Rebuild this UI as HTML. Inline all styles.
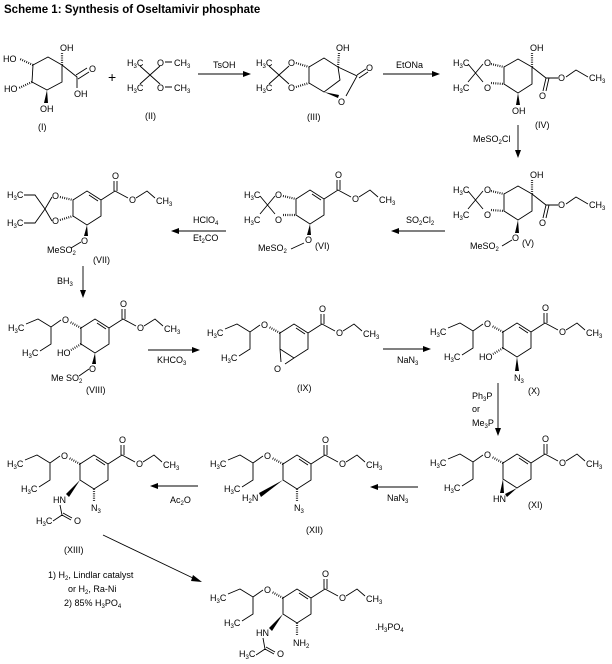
<!DOCTYPE html>
<html><head><meta charset="utf-8"><style>
html,body{margin:0;padding:0;background:#fff;}
svg{display:block;}
text{font-family:"Liberation Sans",Arial,sans-serif;font-size:9px;fill:#000;}
.s{font-size:6px;}
.t{font-size:11.5px;font-weight:bold;}
path,line{stroke:#000;stroke-width:0.9;fill:none;}
.h{stroke-width:2.2;stroke-dasharray:0.8 1.4;}
polygon{fill:#000;stroke:none;}
</style></head><body>
<svg width="612" height="664" viewBox="0 0 612 664" xmlns="http://www.w3.org/2000/svg">
<text class="t" x="4" y="13">Scheme 1: Synthesis of Oseltamivir phosphate</text>

<!-- (I) -->
<g>
<path d="M33,65L48,57L62,65L62,82L47,90L32,82Z M62,65L77,77L77,88 M76,75L87,68 M78,79L89,72"/>
<path class="h" d="M62,65L62,53 M33,65L20,59 M32,82L19,88"/>
<polygon points="47,90 44,103 48,103"/>
<text x="60" y="51">OH</text><text x="89" y="72">O</text><text x="74" y="97">OH</text>
<text x="3" y="62">HO</text><text x="4" y="92">HO</text><text x="40" y="112">OH</text>
<text x="38" y="130">(I)</text>
</g>
<text x="108" y="82" style="font-size:14px">+</text>
<!-- (II) -->
<path d="M140,66L160,84 M160,66L140,84 M165,62L172,62 M165,87L172,87"/>
<text x="127" y="66">H<tspan class="s" dy="2">3</tspan><tspan dy="-2">C</tspan></text>
<text x="157" y="66">O</text><text x="174" y="66">CH<tspan class="s" dy="2">3</tspan></text>
<text x="127" y="91">H<tspan class="s" dy="2">3</tspan><tspan dy="-2">C</tspan></text>
<text x="157" y="91">O</text><text x="174" y="91">CH<tspan class="s" dy="2">3</tspan></text>
<text x="145" y="119">(II)</text>
<!-- arrow TsOH -->
<path d="M198,74L245,74"/><polygon points="251,74 243,71 243,77"/>
<text x="213" y="68">TsOH</text>
<!-- (III) -->
<path d="M269,66L289,84 M289,66L269,84"/>
<text x="256" y="66">H<tspan class="s" dy="2">3</tspan><tspan dy="-2">C</tspan></text>
<text x="256" y="91">H<tspan class="s" dy="2">3</tspan><tspan dy="-2">C</tspan></text>
<text x="288" y="66">O</text><text x="288" y="91">O</text>
<path class="h" d="M296,63L309,67 M296,87L309,83"/>
<path d="M309,67L324,58L338,67L340,80L324,92L309,83Z M338,67L357,76L346,96 M357,75L366,69 M359,78L368,72"/>
<polygon points="324,92 338,98 339,95"/>
<path class="h" d="M338,67L339,53"/>
<text x="336" y="51">OH</text><text x="366" y="71">O</text><text x="338" y="105">O</text>
<text x="307" y="120">(III)</text>
<!-- arrow EtONa -->
<path d="M383,74L434,74"/><polygon points="440,74 432,71 432,77"/>
<text x="396" y="68">EtONa</text>

<!-- (IV) -->
<g transform="translate(518,76)">
<path d="M-14,-9L0,-17L14,-9L14,8L0,17L-14,8Z M-35,-12L-50,6 M-50,-12L-35,6 M14,-9L28,2L40,2 M28,2L25,15 M31,2L28,15 M48,1L58,-6L70,1"/>
<path class="h" d="M-27,-12L-14,-9 M-27,7L-14,8 M14,-9L14,-23"/>
<polygon points="0,17 -2,29 2,29"/>
<text x="-34" y="-10">O</text><text x="-34" y="15">O</text>
<text x="-65" y="-10">H<tspan class="s" dy="2">3</tspan><tspan dy="-2">C</tspan></text>
<text x="-65" y="15">H<tspan class="s" dy="2">3</tspan><tspan dy="-2">C</tspan></text>
<text x="12" y="-25">OH</text><text x="-6" y="38">OH</text>
<text x="40" y="5">O</text><text x="21" y="23">O</text>
<text x="71" y="5">CH<tspan class="s" dy="2">3</tspan></text>
<text x="17" y="52">(IV)</text>
</g>
<!-- arrow MeSO2Cl -->
<path d="M518,125L518,152"/><polygon points="518,158 515,150 521,150"/>
<text x="473" y="142">MeSO<tspan class="s" dy="2">2</tspan><tspan dy="-2">Cl</tspan></text>

<!-- (V) -->
<g transform="translate(518,203)">
<path d="M-14,-9L0,-17L14,-9L14,8L0,17L-14,8Z M-35,-12L-50,6 M-50,-12L-35,6 M14,-9L28,2L40,2 M28,2L25,15 M31,2L28,15 M48,1L58,-6L70,1 M-6,37L-16,43"/>
<path class="h" d="M-27,-12L-14,-9 M-27,7L-14,8 M14,-9L14,-23"/>
<polygon points="0,17 -3,30 1,30"/>
<text x="-34" y="-10">O</text><text x="-34" y="15">O</text>
<text x="-65" y="-10">H<tspan class="s" dy="2">3</tspan><tspan dy="-2">C</tspan></text>
<text x="-65" y="15">H<tspan class="s" dy="2">3</tspan><tspan dy="-2">C</tspan></text>
<text x="12" y="-25">OH</text>
<text x="40" y="5">O</text><text x="21" y="23">O</text>
<text x="71" y="5">CH<tspan class="s" dy="2">3</tspan></text>
<text x="-6" y="38">O</text>
<text x="-48" y="46">MeSO<tspan class="s" dy="2">2</tspan></text>
<text x="4" y="43">(V)</text>
</g>
<!-- arrow SO2Cl2 -->
<path d="M445,231L398,231"/><polygon points="391,231 399,228 399,234"/>
<text x="406" y="223">SO<tspan class="s" dy="2">2</tspan><tspan dy="-2">Cl</tspan><tspan class="s" dy="2">2</tspan></text>

<!-- (VI) -->
<g transform="translate(310,207)">
<path d="M-14,-8L0,-17L14,-8L14,8L0,17L-14,8Z M2,-13L11,-7 M14,-8L28,-17L41,-10 M49,-10L60,-17L68,-10 M27,-17V-27 M30,-17V-27 M-35,-11L-50,7 M-50,-11L-35,7 M-6,36L-19,42"/>
<path class="h" d="M-27,-11L-14,-8 M-27,8L-14,8"/>
<polygon points="0,17 -3,28 1,28"/>
<text x="25" y="-29">O</text><text x="42" y="-5">O</text><text x="69" y="-4">CH<tspan class="s" dy="2">3</tspan></text>
<text x="-35" y="-9">O</text><text x="-35" y="16">O</text>
<text x="-66" y="-9">H<tspan class="s" dy="2">3</tspan><tspan dy="-2">C</tspan></text>
<text x="-66" y="16">H<tspan class="s" dy="2">3</tspan><tspan dy="-2">C</tspan></text>
<text x="-5" y="36">O</text>
<text x="-52" y="44">MeSO<tspan class="s" dy="2">2</tspan></text>
<text x="5" y="42">(VI)</text>
</g>
<!-- arrow HClO4 -->
<path d="M226,231L178,231"/><polygon points="171,231 179,228 179,234"/>
<text x="193" y="223">HClO<tspan class="s" dy="2">4</tspan></text>
<text x="193" y="241">Et<tspan class="s" dy="2">2</tspan><tspan dy="-2">CO</tspan></text>

<!-- (VII) -->
<g transform="translate(87,208)">
<path d="M-14,-8L0,-17L14,-8L14,8L0,17L-14,8Z M2,-13L11,-7 M14,-8L28,-17L41,-10 M49,-10L60,-17L68,-10 M27,-17V-27 M30,-17V-27 M-35,-11L-42,1 M-42,1L-35,13 M-63,-13L-52,-13L-42,1L-52,15L-63,15 M-6,34L-16,40"/>
<path class="h" d="M-27,-11L-14,-8 M-27,12L-14,8"/>
<polygon points="0,17 -3,28 1,28"/>
<text x="25" y="-29">O</text><text x="42" y="-5">O</text><text x="69" y="-4">CH<tspan class="s" dy="2">3</tspan></text>
<text x="-35" y="-9">O</text><text x="-35" y="16">O</text>
<text x="-80" y="-10">H<tspan class="s" dy="2">3</tspan><tspan dy="-2">C</tspan></text>
<text x="-80" y="18">H<tspan class="s" dy="2">3</tspan><tspan dy="-2">C</tspan></text>
<text x="-6" y="36">O</text>
<text x="-40" y="45">MeSO<tspan class="s" dy="2">2</tspan></text>
<text x="6" y="55">(VII)</text>
</g>
<!-- arrow BH3 -->
<path d="M83,266L83,292"/><polygon points="83,298 80,290 86,290"/>
<text x="57" y="284">BH<tspan class="s" dy="2">3</tspan></text>

<!-- (VIII) -->
<g transform="translate(95,336)">
<path d="M-14,-8L0,-17L14,-8L14,8L0,17L-14,8Z M2,-13L11,-7 M14,-8L28,-17L41,-10 M49,-10L60,-17L68,-10 M27,-17V-27 M30,-17V-27 M-34,-16L-44,-9L-57,-17L-69,-12 M-44,-9L-44,8L-55,15 M-6,33L-16,40"/>
<path class="h" d="M-14,-8L-25,-14 M-14,8L-24,14"/>
<polygon points="0,17 -3,28 1,28"/>
<text x="25" y="-29">O</text><text x="42" y="-5">O</text><text x="69" y="-4">CH<tspan class="s" dy="2">3</tspan></text>
<text x="-33" y="-13">O</text>
<text x="-87" y="-5">H<tspan class="s" dy="2">3</tspan><tspan dy="-2">C</tspan></text>
<text x="-73" y="20">H<tspan class="s" dy="2">3</tspan><tspan dy="-2">C</tspan></text>
<text x="-38" y="20">HO</text>
<text x="-6" y="36">O</text>
<text x="-44" y="45">Me SO<tspan class="s" dy="2">2</tspan></text>
<text x="-9" y="57">(VIII)</text>
</g>
<!-- arrow KHCO3 -->
<path d="M148,350L194,350"/><polygon points="200,350 192,347 192,353"/>
<text x="157" y="363">KHCO<tspan class="s" dy="2">3</tspan></text>

<!-- (IX) -->
<g transform="translate(294,341)">
<path d="M-14,-8L0,-17L14,-8L14,8L0,17L-14,8Z M2,-13L11,-7 M14,-8L28,-17L41,-10 M49,-10L60,-17L68,-10 M27,-17V-27 M30,-17V-27 M-34,-16L-44,-9L-57,-17L-69,-12 M-44,-9L-44,8L-55,15 M-14,8L-13,21 M0,17L-9,23"/>
<path class="h" d="M-14,-8L-25,-14"/>
<text x="25" y="-29">O</text><text x="42" y="-5">O</text><text x="69" y="-4">CH<tspan class="s" dy="2">3</tspan></text>
<text x="-33" y="-13">O</text>
<text x="-87" y="-5">H<tspan class="s" dy="2">3</tspan><tspan dy="-2">C</tspan></text>
<text x="-73" y="20">H<tspan class="s" dy="2">3</tspan><tspan dy="-2">C</tspan></text>
<text x="-20" y="31">O</text>
<text x="3" y="50">(IX)</text>
</g>
<!-- arrow NaN3 -->
<path d="M383,349L425,349"/><polygon points="431,349 423,346 423,352"/>
<text x="397" y="363">NaN<tspan class="s" dy="2">3</tspan></text>

<!-- (X) -->
<g transform="translate(517,340)">
<path d="M-14,-8L0,-17L14,-8L14,8L0,17L-14,8Z M2,-13L11,-7 M14,-8L28,-17L41,-10 M49,-10L60,-17L68,-10 M27,-17V-27 M30,-17V-27 M-34,-16L-44,-9L-57,-17L-69,-12 M-44,-9L-44,8L-55,15"/>
<path class="h" d="M-14,-8L-25,-14 M-14,8L-24,14"/>
<polygon points="0,17 -2,31 2,31"/>
<text x="25" y="-29">O</text><text x="42" y="-5">O</text><text x="69" y="-4">CH<tspan class="s" dy="2">3</tspan></text>
<text x="-33" y="-13">O</text>
<text x="-87" y="-5">H<tspan class="s" dy="2">3</tspan><tspan dy="-2">C</tspan></text>
<text x="-73" y="20">H<tspan class="s" dy="2">3</tspan><tspan dy="-2">C</tspan></text>
<text x="-38" y="20">HO</text>
<text x="-3" y="41">N<tspan class="s" dy="2">3</tspan></text>
<text x="11" y="54">(X)</text>
</g>
<!-- arrow Ph3P -->
<path d="M498,383L498,430"/><polygon points="498,436 495,428 501,428"/>
<text x="472" y="399">Ph<tspan class="s" dy="2">3</tspan><tspan dy="-2">P</tspan></text>
<text x="472" y="412">or</text>
<text x="472" y="426">Me<tspan class="s" dy="2">3</tspan><tspan dy="-2">P</tspan></text>

<!-- (XI) -->
<g transform="translate(517,471)">
<path d="M-14,-8L0,-17L14,-8L14,8L0,17L-14,8Z M2,-13L11,-7 M14,-8L28,-17L41,-10 M49,-10L60,-17L68,-10 M27,-17V-27 M30,-17V-27 M-34,-16L-44,-9L-57,-17L-69,-12 M-44,-9L-44,8L-55,15"/>
<path class="h" d="M-14,-8L-25,-14"/>
<polygon points="-14,8 -17,22 -13,22"/>
<polygon points="0,17 -12,23 -10,26"/>
<text x="25" y="-29">O</text><text x="42" y="-5">O</text><text x="69" y="-4">CH<tspan class="s" dy="2">3</tspan></text>
<text x="-33" y="-13">O</text>
<text x="-87" y="-5">H<tspan class="s" dy="2">3</tspan><tspan dy="-2">C</tspan></text>
<text x="-73" y="20">H<tspan class="s" dy="2">3</tspan><tspan dy="-2">C</tspan></text>
<text x="-24" y="31">HN</text>
<text x="11" y="37">(XI)</text>
</g>
<!-- arrow NaN3 left -->
<path d="M418,487L377,487"/><polygon points="370,487 378,484 378,490"/>
<text x="387" y="501">NaN<tspan class="s" dy="2">3</tspan></text>

<!-- (XII) -->
<g transform="translate(297,472)">
<path d="M-14,-8L0,-17L14,-8L14,8L0,17L-14,8Z M2,-13L11,-7 M14,-8L28,-17L41,-10 M49,-10L60,-17L68,-10 M27,-17V-27 M30,-17V-27 M-34,-16L-44,-9L-57,-17L-69,-12 M-44,-9L-44,8L-55,15"/>
<path class="h" d="M-14,-8L-25,-14 M0,17L0,29"/>
<polygon points="-14,8 -38,21 -36,25"/>
<text x="25" y="-29">O</text><text x="42" y="-5">O</text><text x="69" y="-4">CH<tspan class="s" dy="2">3</tspan></text>
<text x="-33" y="-13">O</text>
<text x="-87" y="-5">H<tspan class="s" dy="2">3</tspan><tspan dy="-2">C</tspan></text>
<text x="-73" y="20">H<tspan class="s" dy="2">3</tspan><tspan dy="-2">C</tspan></text>
<text x="-55" y="29">H<tspan class="s" dy="2">2</tspan><tspan dy="-2">N</tspan></text>
<text x="-3" y="39">N<tspan class="s" dy="2">3</tspan></text>
<text x="9" y="61">(XII)</text>
</g>
<!-- arrow Ac2O -->
<path d="M198,486L157,486"/><polygon points="150,486 158,483 158,489"/>
<text x="170" y="503">Ac<tspan class="s" dy="2">2</tspan><tspan dy="-2">O</tspan></text>

<!-- (XIII) -->
<g transform="translate(94,472)">
<path d="M-14,-8L0,-17L14,-8L14,8L0,17L-14,8Z M2,-13L11,-7 M14,-8L28,-17L41,-10 M49,-10L60,-17L68,-10 M27,-17V-27 M30,-17V-27 M-34,-16L-44,-9L-57,-17L-69,-12 M-44,-9L-44,8L-55,15 M-34,33L-32,43L-41,49 M-32,43L-23,48 M-31,41L-22,46"/>
<path class="h" d="M-14,-8L-25,-14 M0,17L0,29"/>
<polygon points="-14,8 -28,22 -25,25"/>
<text x="25" y="-29">O</text><text x="42" y="-5">O</text><text x="69" y="-4">CH<tspan class="s" dy="2">3</tspan></text>
<text x="-33" y="-13">O</text>
<text x="-87" y="-5">H<tspan class="s" dy="2">3</tspan><tspan dy="-2">C</tspan></text>
<text x="-73" y="20">H<tspan class="s" dy="2">3</tspan><tspan dy="-2">C</tspan></text>
<text x="-41" y="31">HN</text>
<text x="-58" y="52">H<tspan class="s" dy="2">3</tspan><tspan dy="-2">C</tspan></text>
<text x="-20" y="52">O</text>
<text x="-3" y="39">N<tspan class="s" dy="2">3</tspan></text>
<text x="-30" y="81">(XIII)</text>
</g>

<!-- diagonal arrow -->
<path d="M103,535L195,579"/><polygon points="202,582 193,575 191,581"/>
<text x="48" y="578">1) H<tspan class="s" dy="2">2</tspan><tspan dy="-2">, Lindlar catalyst</tspan></text>
<text x="68" y="592">or H<tspan class="s" dy="2">2</tspan><tspan dy="-2">, Ra-Ni</tspan></text>
<text x="64" y="606">2) 85% H<tspan class="s" dy="2">3</tspan><tspan dy="-2">PO</tspan><tspan class="s" dy="2">4</tspan></text>

<!-- final -->
<g transform="translate(297,606)">
<path d="M-14,-8L0,-17L14,-8L14,8L0,17L-14,8Z M2,-13L11,-7 M14,-8L28,-17L41,-10 M49,-10L60,-17L68,-10 M27,-17V-27 M30,-17V-27 M-34,-16L-44,-9L-57,-17L-69,-12 M-44,-9L-44,8L-55,15 M-34,32L-32,43L-41,49 M-32,43L-23,48 M-31,41L-22,46"/>
<path class="h" d="M-14,-8L-25,-14 M0,17L0,29"/>
<polygon points="-14,8 -28,22 -25,25"/>
<text x="25" y="-29">O</text><text x="42" y="-5">O</text><text x="69" y="-4">CH<tspan class="s" dy="2">3</tspan></text>
<text x="-33" y="-13">O</text>
<text x="-87" y="-5">H<tspan class="s" dy="2">3</tspan><tspan dy="-2">C</tspan></text>
<text x="-73" y="20">H<tspan class="s" dy="2">3</tspan><tspan dy="-2">C</tspan></text>
<text x="-41" y="30">HN</text>
<text x="-58" y="51">H<tspan class="s" dy="2">3</tspan><tspan dy="-2">C</tspan></text>
<text x="-20" y="51">O</text>
<text x="-4" y="40">NH<tspan class="s" dy="2">2</tspan></text>
</g>
<text x="375" y="630">.H<tspan class="s" dy="2">3</tspan><tspan dy="-2">PO</tspan><tspan class="s" dy="2">4</tspan></text>
</svg>
</body></html>
